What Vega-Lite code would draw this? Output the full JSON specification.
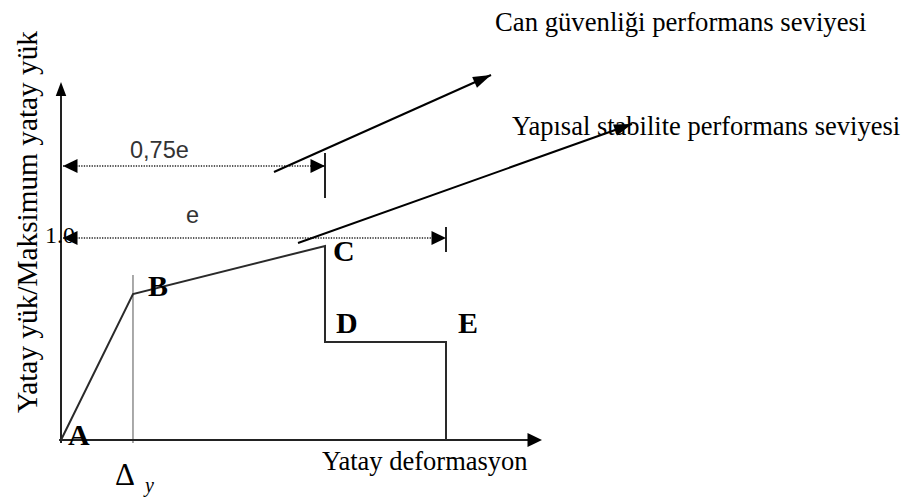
{
  "$schema": "https://vega.github.io/schema/vega-lite/v6.json",
  "width": 916,
  "height": 502,
  "padding": 0,
  "autosize": {"type": "fit", "contains": "padding"},
  "background": "white",
  "config": {"view": {"stroke": null}},
  "datasets": {
    "curve": [
      {"i": 1, "x": 0, "y": 0},
      {"i": 2, "x": 0.187, "y": 0.7228},
      {"i": 3, "x": 0.6857, "y": 0.9604},
      {"i": 4, "x": 0.6857, "y": 0.4851},
      {"i": 5, "x": 1.0, "y": 0.4851},
      {"i": 6, "x": 1.0, "y": 0}
    ],
    "axes": [
      {"x": -0.005, "y": 0, "x2": 1.2182, "y2": 0},
      {"x": 0, "y": -0.0149, "x2": 0, "y2": 1.7079}
    ],
    "yieldLine": [
      {"x": 0.187, "y": -0.0149, "x2": 0.187, "y2": 0.8168}
    ],
    "ticks": [
      {"x": 0.6857, "y": 1.198, "x2": 0.6857, "y2": 1.4208},
      {"x": 1.0, "y": 0.9307, "x2": 1.0, "y2": 1.0545}
    ],
    "dotted": [
      {"x": 0.0052, "y": 1.3564, "x2": 0.6857, "y2": 1.3564},
      {"x": 0.0052, "y": 1.0, "x2": 1.0, "y2": 1.0}
    ],
    "leaders": [
      {"x": 0.5532, "y": 1.3267, "x2": 1.1169, "y2": 1.8069},
      {"x": 0.6156, "y": 0.9752, "x2": 1.4831, "y2": 1.5644}
    ],
    "headsRight": [
      {"x": 1.2494, "y": 0},
      {"x": 0.6857, "y": 1.3564},
      {"x": 1.0, "y": 1.0}
    ],
    "headsLeft": [
      {"x": 0.0052, "y": 1.3564},
      {"x": 0.0052, "y": 1.0}
    ],
    "headsUp": [
      {"x": 0, "y": 1.7723}
    ],
    "head1": [{"x": 1.1169, "y": 1.8069}],
    "head2": [{"x": 1.4831, "y": 1.5644}],
    "topLabel1": [
      {"x": 1.1273, "y": 2.0248, "label": "Can güvenliği performans seviyesi"}
    ],
    "topLabel2": [
      {"x": 1.1714, "y": 1.5099, "label": "Yapısal stabilite performans seviyesi"}
    ],
    "xTitle": [
      {"x": 0.6779, "y": -0.1485, "label": "Yatay deformasyon"}
    ],
    "yTitle": [
      {"x": -0.0623, "y": 0.1337, "label": "Yatay yük/Maksimum yatay yük"}
    ],
    "points": [
      {"x": 0.0182, "y": -0.0248, "label": "A"},
      {"x": 0.226, "y": 0.7129, "label": "B"},
      {"x": 0.7065, "y": 0.8861, "label": "C"},
      {"x": 0.7143, "y": 0.5297, "label": "D"},
      {"x": 1.0312, "y": 0.5297, "label": "E"}
    ],
    "one": [{"x": -0.0416, "y": 0.9752, "label": "1.0"}],
    "dims": [
      {"x": 0.1792, "y": 1.396, "label": "0,75e"},
      {"x": 0.3247, "y": 1.0743, "label": "e"}
    ],
    "delta": [{"x": 0.1403, "y": -0.2228, "label": "Δ"}],
    "sub": [{"x": 0.2182, "y": -0.2574, "label": "y"}]
  },
  "encoding": {
    "x": {"field": "x", "type": "quantitative", "scale": {"domain": [-0.158442, 2.220779], "nice": false, "zero": false}, "axis": null},
    "y": {"field": "y", "type": "quantitative", "scale": {"domain": [-0.306931, 2.178218], "nice": false, "zero": false}, "axis": null}
  },
  "layer": [
    {
      "data": {"name": "dotted"},
      "mark": {"type": "rule", "stroke": "#222", "strokeWidth": 1.3, "strokeDash": [1.3, 1.3]},
      "encoding": {"x2": {"field": "x2"}, "y2": {"field": "y2"}}
    },
    {
      "data": {"name": "yieldLine"},
      "mark": {"type": "rule", "stroke": "#555", "strokeWidth": 1},
      "encoding": {"x2": {"field": "x2"}, "y2": {"field": "y2"}}
    },
    {
      "data": {"name": "axes"},
      "mark": {"type": "rule", "stroke": "#222", "strokeWidth": 2},
      "encoding": {"x2": {"field": "x2"}, "y2": {"field": "y2"}}
    },
    {
      "data": {"name": "ticks"},
      "mark": {"type": "rule", "stroke": "#222", "strokeWidth": 2},
      "encoding": {"x2": {"field": "x2"}, "y2": {"field": "y2"}}
    },
    {
      "data": {"name": "curve"},
      "mark": {"type": "line", "stroke": "#2a2a2a", "strokeWidth": 2, "strokeJoin": "miter"},
      "encoding": {"order": {"field": "i", "type": "quantitative"}}
    },
    {
      "data": {"name": "leaders"},
      "mark": {"type": "rule", "stroke": "#000", "strokeWidth": 2},
      "encoding": {"x2": {"field": "x2"}, "y2": {"field": "y2"}}
    },
    {
      "data": {"name": "headsRight"},
      "mark": {"type": "point", "shape": "M0,0L-2,-0.95L-2,0.95Z", "size": 210, "filled": true, "fill": "#000", "strokeWidth": 0, "opacity": 1}
    },
    {
      "data": {"name": "headsLeft"},
      "mark": {"type": "point", "shape": "M0,0L2,-0.95L2,0.95Z", "size": 210, "filled": true, "fill": "#000", "strokeWidth": 0, "opacity": 1}
    },
    {
      "data": {"name": "headsUp"},
      "mark": {"type": "point", "shape": "M0,0L-0.75,2L0.75,2Z", "size": 196, "filled": true, "fill": "#000", "strokeWidth": 0, "opacity": 1}
    },
    {
      "data": {"name": "head1"},
      "mark": {"type": "point", "shape": "M0,0L-2,-0.65L-2,0.65Z", "size": 324, "angle": 335.9, "filled": true, "fill": "#000", "strokeWidth": 0, "opacity": 1}
    },
    {
      "data": {"name": "head2"},
      "mark": {"type": "point", "shape": "M0,0L-2,-0.65L-2,0.65Z", "size": 324, "angle": 340.4, "filled": true, "fill": "#000", "strokeWidth": 0, "opacity": 1}
    },
    {
      "data": {"name": "topLabel1"},
      "mark": {"type": "text", "font": "Liberation Serif", "fontSize": 26.7, "align": "left", "baseline": "alphabetic", "color": "#000"},
      "encoding": {"text": {"field": "label"}}
    },
    {
      "data": {"name": "topLabel2"},
      "mark": {"type": "text", "font": "Liberation Serif", "fontSize": 26.5, "align": "left", "baseline": "alphabetic", "color": "#000"},
      "encoding": {"text": {"field": "label"}}
    },
    {
      "data": {"name": "xTitle"},
      "mark": {"type": "text", "font": "Liberation Serif", "fontSize": 26.5, "align": "left", "baseline": "alphabetic", "color": "#000"},
      "encoding": {"text": {"field": "label"}}
    },
    {
      "data": {"name": "yTitle"},
      "mark": {"type": "text", "font": "Liberation Serif", "fontSize": 29.3, "angle": 270, "align": "left", "baseline": "alphabetic", "color": "#000"},
      "encoding": {"text": {"field": "label"}}
    },
    {
      "data": {"name": "points"},
      "mark": {"type": "text", "font": "Liberation Serif", "fontSize": 30, "fontWeight": "bold", "align": "left", "baseline": "alphabetic", "color": "#000"},
      "encoding": {"text": {"field": "label"}}
    },
    {
      "data": {"name": "one"},
      "mark": {"type": "text", "font": "Liberation Serif", "fontSize": 24, "align": "left", "baseline": "alphabetic", "color": "#000"},
      "encoding": {"text": {"field": "label"}}
    },
    {
      "data": {"name": "dims"},
      "mark": {"type": "text", "font": "Liberation Sans", "fontSize": 23.5, "align": "left", "baseline": "alphabetic", "color": "#333"},
      "encoding": {"text": {"field": "label"}}
    },
    {
      "data": {"name": "delta"},
      "mark": {"type": "text", "font": "Liberation Serif", "fontSize": 31, "align": "left", "baseline": "alphabetic", "color": "#000"},
      "encoding": {"text": {"field": "label"}}
    },
    {
      "data": {"name": "sub"},
      "mark": {"type": "text", "font": "Liberation Serif", "fontSize": 20, "fontStyle": "italic", "align": "left", "baseline": "alphabetic", "color": "#000"},
      "encoding": {"text": {"field": "label"}}
    }
  ]
}
